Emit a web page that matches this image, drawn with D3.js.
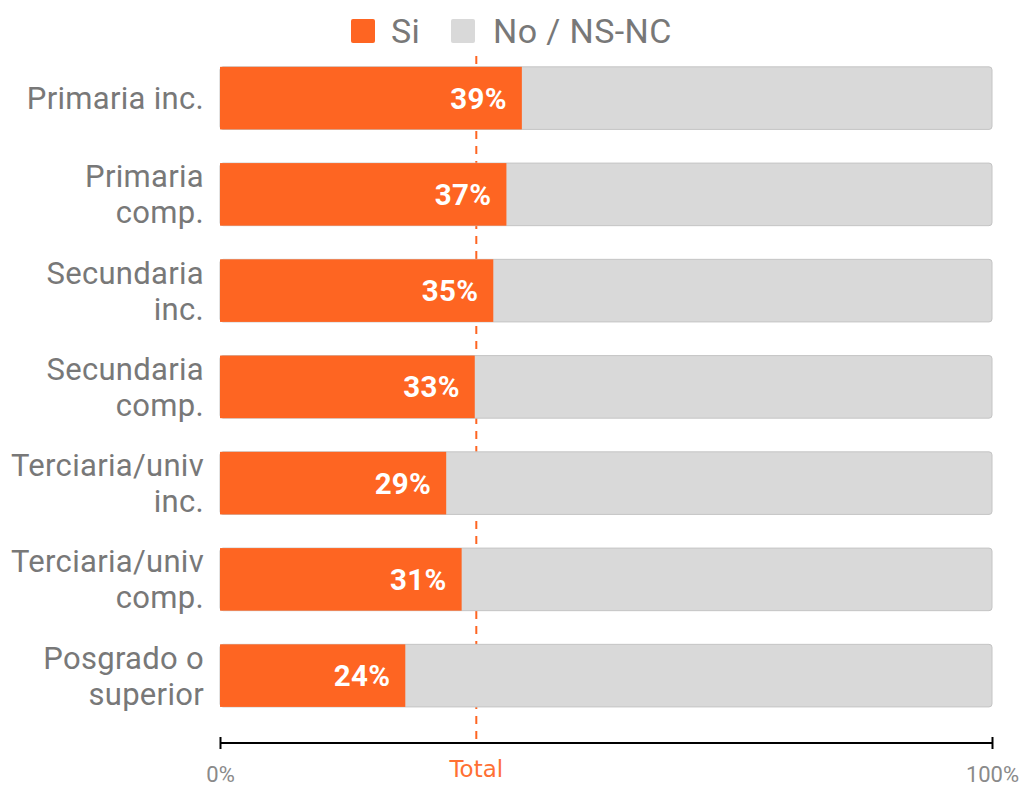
<!DOCTYPE html>
<html>
<head>
<meta charset="utf-8">
<script src="https://cdn.jsdelivr.net/npm/d3@7"></script>
<style>
  body { margin: 0; background: #fff; }
  svg { font-family: Roboto, "Noto Sans", sans-serif; }
</style>
</head>
<body>
<svg id="chart" width="1023" height="786"></svg>
<script>
var categories = [
  ["Primaria inc."],
  ["Primaria", "comp."],
  ["Secundaria", "inc."],
  ["Secundaria", "comp."],
  ["Terciaria/univ", "inc."],
  ["Terciaria/univ", "comp."],
  ["Posgrado o", "superior"]
];
var siValues = [39.1, 37.1, 35.4, 33.0, 29.3, 31.3, 24.0];
var siLabels = ["39%", "37%", "35%", "33%", "29%", "31%", "24%"];
var totalValue = 33.2;
var seriesNames = ["Si", "No / NS-NC"];
var axisTicks = [0, 100];

var orange = "#fe6522";
var grey = "#d9d9d9";

var svg = d3.select("#chart");

var x = d3.scaleLinear().domain([0, 100]).range([220, 992]);
var y = d3.scaleBand().
  domain(d3.range(categories.length)).
  range([50, 723.75]).
  paddingInner(0.35).
  paddingOuter(0.175);

// total reference line sits behind the bars
svg.append("line").
  attr("x1", x(totalValue)).
  attr("x2", x(totalValue)).
  attr("y1", 56).
  attr("y2", 742).
  attr("stroke", orange).
  attr("stroke-width", 2).
  attr("stroke-dasharray", "8,7");

var rows = svg.selectAll("g.row").
  data(siValues).
  enter().append("g").
  attr("class", "row").
  attr("transform", function(d, i) { return "translate(0," + y(i) + ")"; });

rows.append("rect").
  attr("x", x(0)).
  attr("y", 0).
  attr("width", x(100) - x(0)).
  attr("height", y.bandwidth()).
  attr("rx", 3).
  attr("fill", grey).
  attr("stroke", "#c4c4c4").
  attr("stroke-width", 1);

rows.append("rect").
  attr("x", x(0)).
  attr("y", 0).
  attr("width", function(d) { return x(d) - x(0); }).
  attr("height", y.bandwidth()).
  attr("fill", orange);

rows.append("text").
  attr("x", function(d) { return x(d) - 15; }).
  attr("y", y.bandwidth() / 2 + 10.5).
  attr("text-anchor", "end").
  attr("fill", "#fff").
  attr("font-size", 29.5).
  attr("font-weight", "bold").
  attr("letter-spacing", 0.3).
  text(function(d, i) { return siLabels[i]; });

// category labels
rows.append("text").
  attr("text-anchor", "end").
  attr("fill", "#787878").
  attr("font-size", 31).
  attr("letter-spacing", 0.3).
  each(function(d, i) {
    var lines = categories[i];
    var t = d3.select(this);
    var mid = y.bandwidth() / 2;
    var start = lines.length === 1 ? mid + 11 : mid - 7;
    lines.forEach(function(s, k) {
      t.append("tspan").
        attr("x", 204).
        attr("y", start + k * 36).
        text(s);
    });
  });

// axis
var axis = d3.axisBottom(x).
  tickValues(axisTicks).
  tickSize(0).
  tickFormat(function(d) { return d + "%"; });

var gX = svg.append("g").
  attr("transform", "translate(0,743)").
  call(axis);
gX.select(".domain").attr("stroke", "#000").attr("stroke-width", 2).attr("d", "M" + x(0) + ",0H" + x(100));
gX.selectAll(".tick line").remove();
gX.selectAll(".tick").append("line").
  attr("y1", -6).attr("y2", 6).
  attr("stroke", "#000").attr("stroke-width", 2);
gX.selectAll(".tick text").
  attr("y", 39).
  attr("dy", 0).
  attr("fill", "#8a8a8a").
  attr("font-size", 22).
  attr("font-family", "Roboto, sans-serif");

svg.append("text").
  attr("x", x(totalValue)).
  attr("y", 777).
  attr("text-anchor", "middle").
  attr("fill", "#ff7033").
  attr("font-size", 23).
  attr("font-family", "'DejaVu Sans', sans-serif").
  text("Total");

// legend
var legend = svg.append("g");
var legendItems = [
  { name: seriesNames[0], color: orange, x: 351, tx: 391 },
  { name: seriesNames[1], color: grey, x: 451, tx: 493 }
];
legend.selectAll("rect").
  data(legendItems).
  enter().append("rect").
  attr("x", function(d) { return d.x; }).
  attr("y", 19).
  attr("width", 24).
  attr("height", 24).
  attr("rx", 2).
  attr("fill", function(d) { return d.color; });
legend.selectAll("text").
  data(legendItems).
  enter().append("text").
  attr("x", function(d) { return d.tx; }).
  attr("y", 43).
  attr("fill", "#787878").
  attr("font-size", 34).
  attr("letter-spacing", 0.4).
  text(function(d) { return d.name; });
</script>
</body>
</html>
